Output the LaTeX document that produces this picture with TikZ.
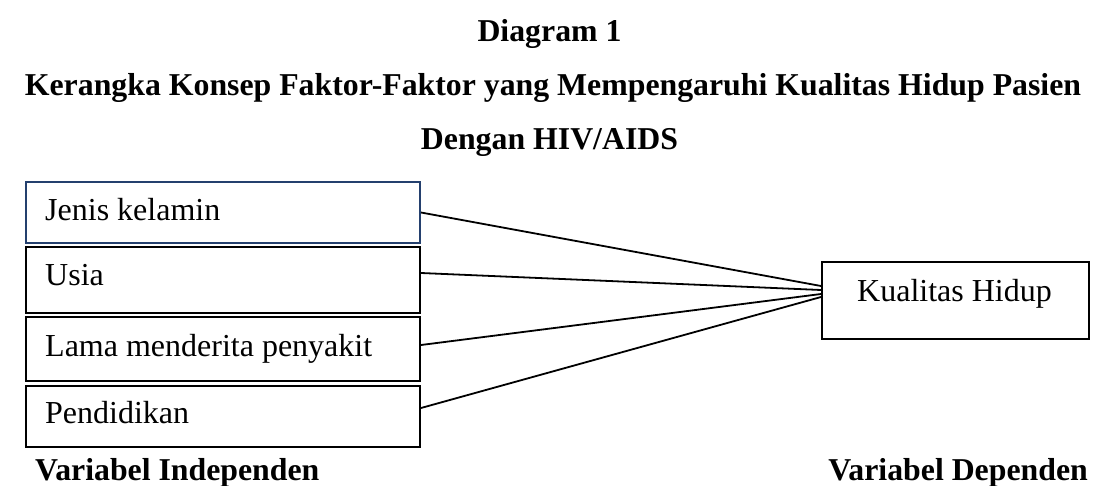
\documentclass[tikz,border=0pt]{standalone}
\usepackage{fontspec}
\setmainfont{Liberation Serif}
\usetikzlibrary{calc}
\definecolor{boxblue}{RGB}{36,64,110}
\begin{document}
\begin{tikzpicture}[x=1pt,y=-1pt,
  every node/.style={font=\fontsize{32}{38}\selectfont},
  title/.style={font=\fontsize{31.8}{38}\selectfont\bfseries, anchor=base, inner sep=0pt},
  label/.style={anchor=base west, inner sep=0pt},
  vbox/.style={draw, line width=2pt, anchor=north west, inner sep=0pt},
  conn/.style={line width=1.8pt}]
\useasboundingbox (0,0) rectangle (1099,486);
\node[title] (t1) at (549.5,42) {Diagram 1};
\node[title] (t2) at (553,96) {Kerangka Konsep Faktor-Faktor yang Mempengaruhi Kualitas Hidup Pasien};
\node[title] (t3) at (549.5,150) {Dengan HIV/AIDS};
% independent boxes
\node[vbox, draw=boxblue, minimum width=394.5pt, minimum height=61pt] (b1) at (24.5,181) {};
\node[vbox, minimum width=394.5pt, minimum height=66pt] (b2) at (24.5,246) {};
\node[vbox, minimum width=394.5pt, minimum height=64pt] (b3) at (24.5,316) {};
\node[vbox, minimum width=394.5pt, minimum height=61pt] (b4) at (24.5,385) {};
\node[label] (l1) at (45,221) {Jenis kelamin};
\node[label] (l2) at (45,285) {Usia};
\node[label] (l3) at (45,356) {Lama menderita penyakit};
\node[label] (l4) at (45,423) {Pendidikan};
% dependent box
\node[vbox, minimum width=267pt, minimum height=77pt] (k) at (821,261) {};
\node[label] (kl) at (857,301) {Kualitas Hidup};
% connectors
\draw[conn] ([yshift=0pt]b1.east) -- ([yshift=14.5pt]k.west);
\draw[conn] ([yshift=7pt]b2.east) -- ([yshift=10.5pt]k.west);
\draw[conn] ([yshift=4pt]b3.east) -- ([yshift=6.5pt]k.west);
\draw[conn] ([yshift=8.5pt]b4.east) -- ([yshift=3.5pt]k.west);
% variable labels
\node[label, font=\fontsize{31.8}{38}\selectfont\bfseries] (vi) at (35,480) {Variabel Independen};
\node[anchor=base east, inner sep=0pt, font=\fontsize{31.8}{38}\selectfont\bfseries] (vd) at (1088,480) {Variabel Dependen};
\end{tikzpicture}
\end{document}
